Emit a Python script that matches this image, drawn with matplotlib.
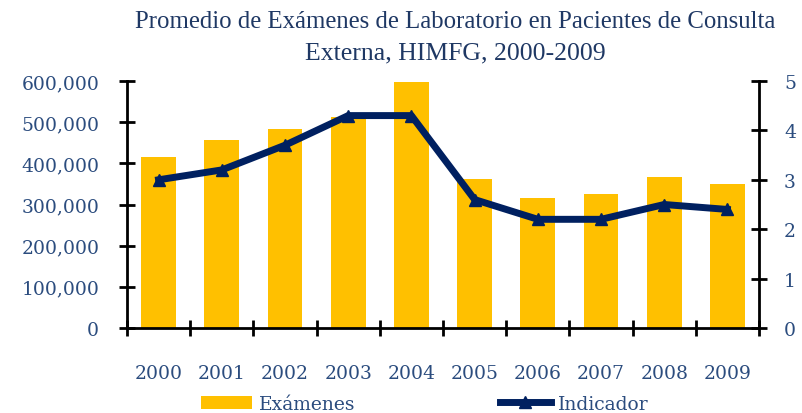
import matplotlib
matplotlib.use("Agg")
import matplotlib.pyplot as plt
import numpy as np
from matplotlib.patches import Patch
from matplotlib.lines import Line2D

years = ["2000", "2001", "2002", "2003", "2004", "2005", "2006", "2007", "2008", "2009"]
examenes = [415000, 457000, 484000, 512000, 597000, 362000, 317000, 326000, 367000, 349000]
indicador = [3.0, 3.2, 3.7, 4.3, 4.3, 2.6, 2.2, 2.2, 2.5, 2.4]
left_ticks = [0, 100000, 200000, 300000, 400000, 500000, 600000]
right_ticks = [0, 1, 2, 3, 4, 5]

BAR = "#FFC000"
LINE = "#002060"
LBL = "#2B4C7E"
TITLE = "#1F3864"
TFONT = ["Liberation Serif", "DejaVu Serif"]
LFONT = ["DejaVu Serif"]
plt.rcParams["font.family"] = LFONT

fig = plt.figure(figsize=(8.03, 4.14), dpi=100)
ax = fig.add_axes([127/803, 1-329/414, (759-127)/803, (329-82)/414])
x = np.arange(len(years))
ax.bar(x, examenes, width=0.55, color=BAR, zorder=2)
ax.set_xlim(-0.5, len(years)-0.5)
ax.set_ylim(0, 600000)
ax.set_yticks(left_ticks)
ax.set_yticklabels([f"{v:,}" for v in left_ticks])
ax.set_xticks(np.arange(len(years)+1)-0.5)
ax.set_xticklabels([])
ax.set_xticks(x, minor=True)
ax.set_xticklabels(years, minor=True)
ax.tick_params(axis="x", which="minor", length=0, pad=26, labelsize=13.5, labelcolor=LBL)
ax.tick_params(axis="x", which="major", direction="inout", length=12, width=2)
ax.tick_params(axis="y", direction="inout", length=12, width=2, labelsize=13.5, labelcolor=LBL, pad=14)
ax.spines["top"].set_visible(False)
ax.spines["right"].set_visible(False)
for s in ["left", "bottom"]:
    ax.spines[s].set_linewidth(2)

ax2 = ax.twinx()
ax2.plot(x, indicador, color=LINE, lw=5, marker="^", markersize=9, zorder=3)
ax2.set_ylim(0, 5)
ax2.set_yticks(right_ticks)
ax2.tick_params(axis="y", direction="inout", length=12, width=2, labelsize=13.5, labelcolor=LBL, pad=12)
for s in ["top", "left", "bottom"]:
    ax2.spines[s].set_visible(False)
ax2.spines["right"].set_linewidth(2)

fig.text(455/803, 1-22/414, "Promedio de Exámenes de Laboratorio en Pacientes de Consulta",
         ha="center", va="center", fontsize=17.8, color=TITLE, family=TFONT)
fig.text(455/803, 1-53/414, "Externa, HIMFG, 2000-2009",
         ha="center", va="center", fontsize=18.5, color=TITLE, family=TFONT)

handles = [Patch(facecolor=BAR, edgecolor="none"),
           Line2D([0], [0], color=LINE, lw=5, marker="^", markersize=9)]
leg = fig.legend(handles, ["Exámenes", "Indicador"], loc="center", ncol=2,
                 bbox_to_anchor=(425/803, 1-405/414), frameon=False, fontsize=13.5,
                 handlelength=2.7, columnspacing=7.7, handletextpad=0.4, labelcolor=LBL)

fig.savefig("out.png", dpi=100)
